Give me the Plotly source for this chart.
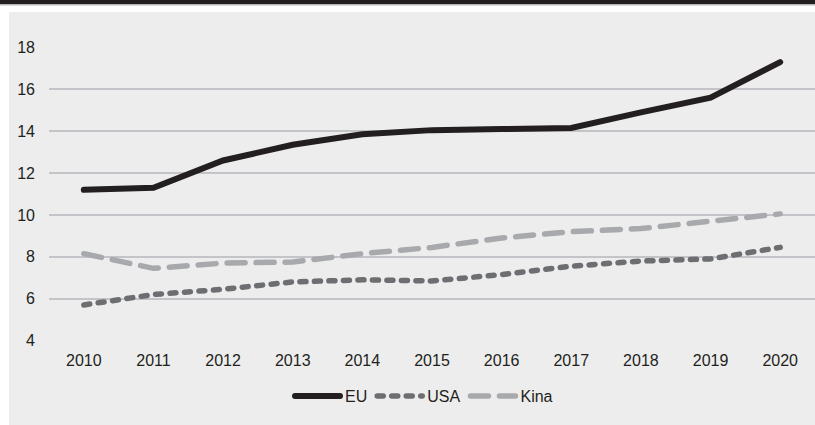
import plotly.graph_objects as go

years = [2010, 2011, 2012, 2013, 2014, 2015, 2016, 2017, 2018, 2019, 2020]
eu = [11.2, 11.3, 12.6, 13.35, 13.85, 14.05, 14.1, 14.15, 14.9, 15.6, 17.3]
usa = [5.7, 6.2, 6.45, 6.8, 6.9, 6.85, 7.15, 7.55, 7.8, 7.9, 8.45]
kina = [8.15, 7.45, 7.7, 7.75, 8.15, 8.45, 8.9, 9.2, 9.35, 9.7, 10.05]
y_ticks = [4, 6, 8, 10, 12, 14, 16, 18]

W, H = 815, 425
ML, MR, MT, MB = 49, 0, 47, 84
PW, PH = W - ML - MR, H - MT - MB


def px_x(x):
    return (x - ML) / PW


def px_y(y):
    return (H - MB - y) / PH


TEXT = "#231f20"
FONT = "Liberation Sans, Arial, sans-serif"

fig = go.Figure()
fig.add_trace(go.Scatter(x=years, y=eu, name="EU", mode="lines",
                         line=dict(color="#231f20", width=6)))
fig.add_trace(go.Scatter(x=years, y=usa, name="USA", mode="lines",
                         line=dict(color="#6d6e71", width=5.5, dash="6px,8.5px")))
fig.add_trace(go.Scatter(x=years, y=kina, name="Kina", mode="lines",
                         line=dict(color="#a7a9ac", width=5.5, dash="18px,11px")))

shapes = [
    # panel background
    dict(type="rect", xref="paper", yref="paper", layer="below",
         x0=px_x(9), x1=px_x(815), y0=px_y(425), y1=px_y(12),
         fillcolor="#ededed", line=dict(width=0)),
    # dark header band
    dict(type="rect", xref="paper", yref="paper", layer="below",
         x0=px_x(0), x1=px_x(815), y0=px_y(4), y1=px_y(0),
         fillcolor="#231f20", line=dict(width=0)),
    dict(type="rect", xref="paper", yref="paper", layer="below",
         x0=px_x(0), x1=px_x(815), y0=px_y(5.5), y1=px_y(4),
         fillcolor="#b8b8b8", line=dict(width=0)),
]

fig.update_layout(
    width=W, height=H,
    margin=dict(l=ML, r=MR, t=MT, b=MB),
    paper_bgcolor="white",
    plot_bgcolor="rgba(0,0,0,0)",
    font=dict(family=FONT, size=16, color=TEXT),
    shapes=shapes,
    showlegend=True,
    legend=dict(orientation="h", xanchor="center", yanchor="middle",
                x=px_x(424), y=px_y(396), bgcolor="rgba(0,0,0,0)",
                font=dict(size=16, color=TEXT), itemwidth=45,
                tracegroupgap=0),
    xaxis=dict(range=[2009.5, 2020.5], tickmode="array", tickvals=years,
               ticktext=[str(y) for y in years], showgrid=False,
               zeroline=False, showline=False, ticks="",
               ticklabelstandoff=8),
    yaxis=dict(range=[3.98, 18.02], tickmode="array", tickvals=y_ticks,
               showgrid=True, gridcolor="#c4c4c8", gridwidth=2,
               zeroline=False, showline=False, ticks="",
               ticklabelstandoff=13),
)

# rounded ends on the dashed line segments
round_caps = """
var s = document.createElement('style');
s.textContent = '.js-line { stroke-linecap: round; }';
document.head.appendChild(s);
"""

fig.write_html("out.html", post_script=round_caps)
